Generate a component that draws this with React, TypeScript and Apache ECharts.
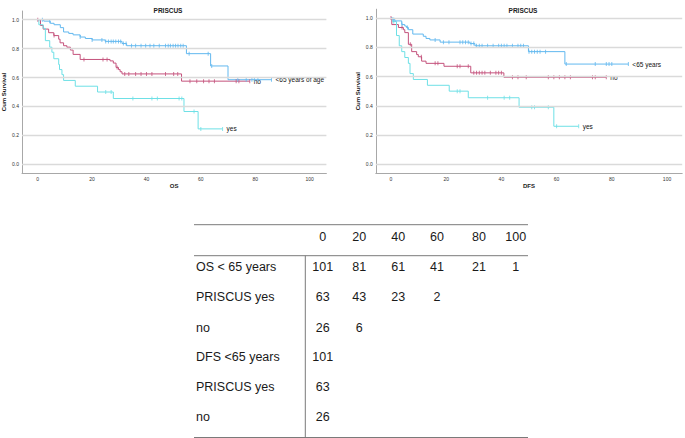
import React, { useEffect, useRef } from "react";
import * as echarts from "echarts";

// ---- Kaplan–Meier step data: [time, cumulative survival after event] ----
const osUnder65: [number, number][] = [
  [0, 1.0], [2.2, 0.99], [4.6, 0.975], [6, 0.965], [8.3, 0.945], [9.5, 0.915],
  [11.4, 0.905], [13, 0.895], [15.6, 0.88], [17.5, 0.87], [20, 0.86], [24.8, 0.85],
  [31, 0.835], [32.7, 0.82], [54.7, 0.765], [63.6, 0.68], [70, 0.585], [86, 0.585],
];
const osUnder65Censored = [1.7, 4.4, 15.6, 20, 23.6, 25, 26, 27, 27.8, 28.7, 29.7, 30.5, 31.5, 32.5,
  34.5, 36, 38, 39.7, 41.3, 42.7, 44.7, 47, 48, 48.8, 49.8, 50.7, 51.6, 52.6, 53.5, 55.7, 62.7, 64,
  73.6, 76.7, 78.8, 79.7, 81, 86];

const osNo: [number, number][] = [
  [0, 1.0], [1, 0.96], [2, 0.935], [4, 0.91], [5.9, 0.89], [7.7, 0.865], [8.2, 0.84],
  [9.5, 0.82], [10.7, 0.81], [12, 0.79], [13, 0.76], [15.6, 0.725], [26.6, 0.715],
  [27.8, 0.7], [28.8, 0.67], [29.7, 0.655], [30.3, 0.64], [31, 0.625], [52.9, 0.575], [78, 0.575],
];
const osNoCensored = [0, 6, 17, 24, 25.5, 29.2, 32, 33.5, 36, 38, 40, 42, 47, 50, 51.5, 56, 58.5, 61,
  63, 65, 73, 74, 78];

const osYes: [number, number][] = [
  [0, 1.0], [0.4, 0.965], [2, 0.94], [2.8, 0.855], [4.4, 0.81], [5.2, 0.775], [5.9, 0.73],
  [7.7, 0.69], [8, 0.655], [8.9, 0.62], [9.5, 0.58], [13.8, 0.54], [22, 0.5], [27.8, 0.455],
  [53.8, 0.365], [59, 0.245], [68, 0.245],
];
const osYesCensored = [25, 27, 35, 42, 44, 52, 53, 57.5, 60, 68];

const dfsUnder65: [number, number][] = [
  [0, 1.0], [0.6, 0.99], [1.4, 0.98], [3.9, 0.955], [5, 0.945], [5.6, 0.935], [6.3, 0.92],
  [7.9, 0.89], [11.7, 0.875], [12.7, 0.86], [14.1, 0.85], [17.8, 0.835], [28.6, 0.825],
  [30.4, 0.81], [49.8, 0.77], [63, 0.685], [86, 0.685],
];
const dfsUnder65Censored = [1, 4, 6, 16, 19, 21, 25, 26, 27, 28, 29, 30, 31, 32, 33, 35, 37, 39, 40,
  41, 42, 44, 46, 47, 48, 50, 51, 52, 53, 54, 56, 63.5, 74, 78, 79, 80, 86];

const dfsNo: [number, number][] = [
  [0, 1.0], [0.3, 0.955], [2.7, 0.935], [4.5, 0.92], [5, 0.9], [6.3, 0.82], [7.5, 0.77],
  [9.3, 0.75], [9.9, 0.735], [11.1, 0.705], [12.7, 0.69], [19.2, 0.67], [28.9, 0.625],
  [40.9, 0.595], [78, 0.595],
];
const dfsNoCensored = [0, 4, 7, 11, 16, 17, 24, 25, 28, 30, 31, 32, 33, 34, 36, 38, 39, 40, 44, 46,
  49, 57, 59, 61, 63, 65, 73, 74, 78];

const dfsYes: [number, number][] = [
  [0, 1.0], [0.6, 0.975], [2, 0.88], [3, 0.81], [3.9, 0.77], [5, 0.73], [6.3, 0.69],
  [6.9, 0.62], [8.1, 0.58], [13.2, 0.54], [21.1, 0.5], [28, 0.455], [46.4, 0.39], [59, 0.26],
  [68, 0.26],
];
const dfsYesCensored = [1, 24, 25, 35, 41, 43, 51, 52, 57, 60, 68];

// ---- Axis ticks ----
const timeTicks = [0, 20, 40, 60, 80, 100];
const survivalTicks = [0, 0.2, 0.4, 0.6, 0.8, 1.0];

// ---- Numbers-at-risk table ----
const tableTimes = ["0", "20", "40", "60", "80", "100"];
const tableRowLabels = ["OS < 65 years", "PRISCUS yes", "no", "DFS <65 years", "PRISCUS yes", "no"];
const tableRowValues: string[][] = [
  ["101", "81", "61", "41", "21", "1"],
  ["63", "43", "23", "2"],
  ["26", "6"],
  ["101"],
  ["63"],
  ["26"],
];

const BLUE = "#62b8ef";
const RED = "#c4527c";
const CYAN = "#6ee0e6";

function survivalAt(steps: [number, number][], t: number): number {
  let v = steps[0][1];
  for (const [time, s] of steps) {
    if (time <= t) v = s;
    else break;
  }
  return v;
}

function curveSeries(
  name: string,
  steps: [number, number][],
  censored: number[],
  color: string,
  axis: number,
  label: string
) {
  return [
    {
      type: "line",
      name,
      xAxisIndex: axis,
      yAxisIndex: axis,
      step: "end",
      data: steps,
      showSymbol: false,
      symbol: "none",
      z: 3,
      lineStyle: { color, width: 1 },
      endLabel: {
        show: true,
        formatter: () => label,
        color: "#111",
        fontSize: 6.5,
        fontFamily: "Liberation Sans",
        distance: 4,
      },
      silent: true,
    },
    {
      type: "scatter",
      name: name + " censored",
      xAxisIndex: axis,
      yAxisIndex: axis,
      data: censored.map((t) => [t, survivalAt(steps, t)]),
      symbol: "rect",
      symbolSize: [1, 4],
      z: 4,
      itemStyle: { color },
      silent: true,
    },
  ];
}

function gridLineSeries(axis: number) {
  return {
    type: "line",
    xAxisIndex: axis,
    yAxisIndex: axis,
    data: [],
    z: 1,
    silent: true,
    markLine: {
      silent: true,
      symbol: "none",
      label: { show: false },
      lineStyle: { color: "#dadada", width: 1.3, type: "solid" },
      data: survivalTicks.map((v) => ({ yAxis: v })),
    },
  };
}

const axisFont = { fontSize: 5, color: "#333", fontFamily: "Liberation Sans" };
const axisLineStyle = { show: true, onZero: false, lineStyle: { color: "#a8a8a8", width: 1 } };

function xAxisFor(idx: number, min: number, max: number, name: string) {
  return {
    type: "value",
    gridIndex: idx,
    min,
    max,
    name,
    nameLocation: "middle",
    nameGap: 10,
    nameTextStyle: { fontSize: 6, fontWeight: "bold", color: "#222", fontFamily: "Liberation Sans" },
    axisLine: axisLineStyle,
    axisTick: { show: false, customValues: timeTicks },
    splitLine: { show: false },
    axisLabel: { ...axisFont, margin: 3, customValues: timeTicks, formatter: (v: number) => String(v) },
  };
}

function yAxisFor(idx: number) {
  return {
    type: "value",
    gridIndex: idx,
    min: -0.06,
    max: 1.06,
    name: "Cum Survival",
    nameLocation: "middle",
    nameGap: 15,
    nameRotate: 90,
    nameTextStyle: { fontSize: 6, fontWeight: "bold", color: "#222", fontFamily: "Liberation Sans" },
    axisLine: axisLineStyle,
    axisTick: { show: false, customValues: survivalTicks },
    splitLine: { show: false },
    axisLabel: {
      ...axisFont,
      margin: 3,
      customValues: survivalTicks,
      formatter: (v: number) => v.toFixed(1),
    },
  };
}

function tableGraphics() {
  const colX = [322.7, 359.3, 398.3, 437, 479, 515.7];
  const rowY = [267.3, 297.3, 327.7, 356.7, 386.7, 417.3];
  const headerY = 236.7;
  const font = { fontSize: 12.5, fontFamily: "Liberation Sans", fill: "#1a1a1a" };
  const els: any[] = [];
  tableTimes.forEach((t, i) => {
    els.push({
      type: "text",
      x: colX[i],
      y: headerY,
      style: { text: t, ...font, align: "center", verticalAlign: "middle" },
    });
  });
  tableRowLabels.forEach((lab, r) => {
    els.push({
      type: "text",
      x: 196,
      y: rowY[r],
      style: { text: lab, ...font, align: "left", verticalAlign: "middle" },
    });
    tableRowValues[r].forEach((v, c) => {
      els.push({
        type: "text",
        x: colX[c],
        y: rowY[r],
        style: { text: v, ...font, align: "center", verticalAlign: "middle" },
      });
    });
  });
  const ls = { stroke: "#7a7a7a", lineWidth: 1 };
  els.push({ type: "line", shape: { x1: 194, y1: 224.7, x2: 528, y2: 224.7 }, style: ls });
  els.push({ type: "line", shape: { x1: 194, y1: 255.7, x2: 528, y2: 255.7 }, style: ls });
  els.push({ type: "line", shape: { x1: 194, y1: 437.5, x2: 528, y2: 437.5 }, style: ls });
  els.push({ type: "line", shape: { x1: 305.3, y1: 255.7, x2: 305.3, y2: 437.5 }, style: ls });
  return els;
}

export default function App() {
  const ref = useRef<HTMLDivElement>(null);

  useEffect(() => {
    if (!ref.current) return;
    const chart = echarts.init(ref.current, undefined, { renderer: "svg" });
    const titleStyle = { fontSize: 6.5, fontWeight: "bold", color: "#222", fontFamily: "Liberation Sans" };
    chart.setOption({
      animation: false,
      backgroundColor: "#ffffff",
      title: [
        { text: "PRISCUS", left: 163, top: 2, textAlign: "center", textStyle: titleStyle },
        { text: "PRISCUS", left: 518, top: 2, textAlign: "center", textStyle: titleStyle },
      ],
      grid: [
        { left: 21, top: 11, width: 305.4, height: 162 },
        { left: 375.8, top: 9.2, width: 306.4, height: 163.9 },
      ],
      xAxis: [xAxisFor(0, -5.8, 106.2, "OS"), xAxisFor(1, -5.5, 105.5, "DFS")],
      yAxis: [yAxisFor(0), yAxisFor(1)],
      series: [
        gridLineSeries(0),
        gridLineSeries(1),
        ...curveSeries("OS no", osNo, osNoCensored, RED, 0, "no"),
        ...curveSeries("OS yes", osYes, osYesCensored, CYAN, 0, "yes"),
        ...curveSeries("OS <65", osUnder65, osUnder65Censored, BLUE, 0, "<65 years of age"),
        ...curveSeries("DFS no", dfsNo, dfsNoCensored, RED, 1, "no"),
        ...curveSeries("DFS yes", dfsYes, dfsYesCensored, CYAN, 1, "yes"),
        ...curveSeries("DFS <65", dfsUnder65, dfsUnder65Censored, BLUE, 1, "<65 years"),
      ],
      graphic: tableGraphics(),
    });
    return () => chart.dispose();
  }, []);

  return (
    <div
      ref={ref}
      style={{ position: "fixed", left: 0, top: 0, width: 685, height: 438, background: "#fff" }}
    />
  );
}
